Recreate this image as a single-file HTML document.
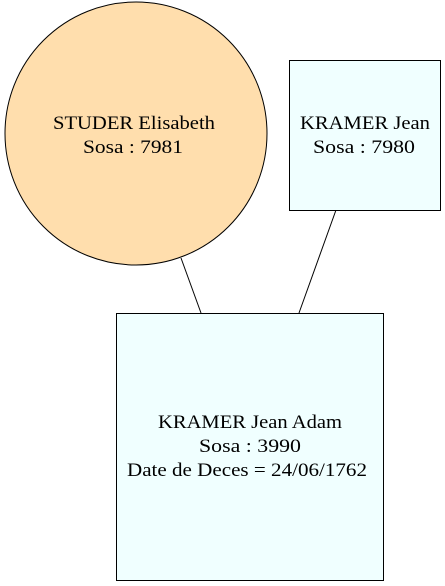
<!DOCTYPE html>
<html><head><meta charset="utf-8"><style>
html,body{margin:0;padding:0;background:#fff;}
svg{display:block;}
text{font-family:"Liberation Serif",serif;font-size:19px;fill:#000;}
</style></head><body>
<svg width="445" height="586" viewBox="0 0 445 586" xmlns="http://www.w3.org/2000/svg">
<rect width="445" height="586" fill="#fff"/>
<line x1="181" y1="258" x2="201" y2="313" stroke="#000" stroke-width="1"/>
<line x1="336" y1="210" x2="299" y2="313" stroke="#000" stroke-width="1"/>
<ellipse cx="136" cy="133.5" rx="131" ry="131.5" fill="#FFDEAD" stroke="#000" stroke-width="1"/>
<text x="53" y="129" textLength="162" lengthAdjust="spacingAndGlyphs">STUDER Elisabeth</text>
<text x="83" y="153" textLength="100" lengthAdjust="spacingAndGlyphs">Sosa : 7981</text>
<rect x="289.5" y="60.5" width="151" height="150" fill="#F0FFFF" stroke="#000" stroke-width="1"/>
<text x="300" y="129" textLength="130" lengthAdjust="spacingAndGlyphs">KRAMER Jean</text>
<text x="313" y="153" textLength="102" lengthAdjust="spacingAndGlyphs">Sosa : 7980</text>
<rect x="116.5" y="313.5" width="267" height="267" fill="#F0FFFF" stroke="#000" stroke-width="1"/>
<text x="158" y="428" textLength="184" lengthAdjust="spacingAndGlyphs">KRAMER Jean Adam</text>
<text x="199" y="452" textLength="102" lengthAdjust="spacingAndGlyphs">Sosa : 3990</text>
<text x="127" y="476" textLength="240" lengthAdjust="spacingAndGlyphs">Date de Deces = 24/06/1762</text>
</svg>
</body></html>
